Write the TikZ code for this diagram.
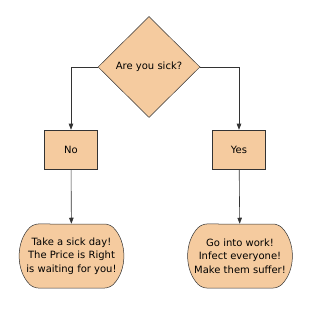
\documentclass[tikz,border=0pt]{standalone}
\usepackage{fontspec}
\setmainfont{DejaVu Sans}
\usetikzlibrary{shapes.geometric,shapes.misc,arrows.meta}
\definecolor{peach}{HTML}{F5CB9F}
\definecolor{edge}{HTML}{333333}
\tikzset{
  question/.style={diamond,draw=edge,fill=peach,line width=.5pt,inner sep=0pt,
    minimum width=102pt,minimum height=101pt},
  answer/.style={rectangle,draw=edge,fill=peach,line width=.5pt,
    minimum width=53pt,minimum height=39pt},
  outcome/.style={rounded rectangle,rounded rectangle arc length=90,draw=edge,fill=peach,
    line width=.5pt,rounded corners=5pt,minimum width=103pt,minimum height=64pt,
    inner sep=0pt,align=center},
  link/.style={draw=edge,line width=.6pt,rounded corners=0pt,-{Triangle[length=6pt,width=4.5pt]}}
}

\begin{document}
\begin{tikzpicture}[x=1pt,y=-1pt,font=\fontsize{10}{13.5}\selectfont]
\useasboundingbox (0,0) rectangle (308,320);
\node[question] (sick) at (149,67) {Are you sick?};
\node[answer] (no) at (71,149.5) {No};
\node[answer] (yes) at (239,149.5) {Yes};
\node[outcome] (stay) at (71.5,256) {Take a sick day!\\The Price is Right\\is waiting for you!};
\node[outcome] (work) at (240,256) {Go into work!\\Infect everyone!\\Make them suffer!};
\draw[link] (sick.west) -| (no.north);
\draw[link] (sick.east) -| (yes.north);
\draw[link] (no) -- (stay);
\draw[link] (yes) -- (work);
\end{tikzpicture}
\end{document}
